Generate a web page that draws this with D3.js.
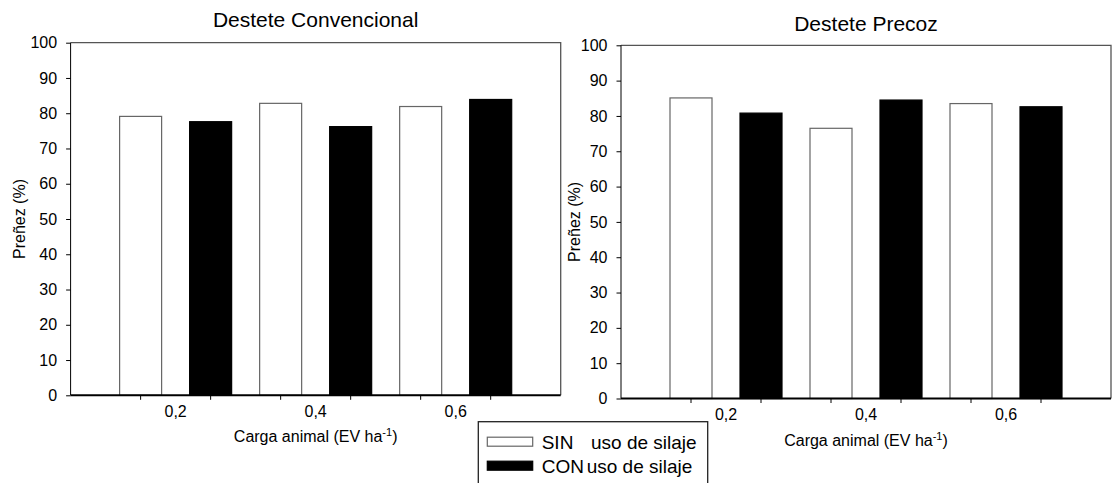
<!DOCTYPE html>
<html>
<head>
<meta charset="utf-8">
<script src="https://cdn.jsdelivr.net/npm/d3@7"></script>
<style>
  html, body { margin: 0; padding: 0; background: #fff; }
  svg { display: block; }
  text { font-family: "Liberation Sans", Arial, sans-serif; fill: #000; }
</style>
</head>
<body>
<svg id="chart" width="1112" height="483"></svg>
<script>
// ---- data ----
const categories = ["0,2", "0,4", "0,6"];
const seriesNames = ["SIN", "CON"];
const convSin = [79.1, 82.8, 81.9];
const convCon = [77.6, 76.2, 83.9];
const precozSin = [85.1, 76.5, 83.5];
const precozCon = [80.8, 84.5, 82.6];
const yTicks = [0, 10, 20, 30, 40, 50, 60, 70, 80, 90, 100];
const panelTitles = ["Destete Convencional", "Destete Precoz"];
const yTitle = "Preñez (%)";
const legendLabels = ["uso de silaje", "uso de silaje"];

const svg = d3.select("#chart");

const panels = [
  { title: panelTitles[0], sin: convSin, con: convCon,
    x0: 70.6, x1: 560.7, yTop: 42.7, yZero: 395.3, titleY: 27.3, yTitleX: 25 },
  { title: panelTitles[1], sin: precozSin, con: precozCon,
    x0: 621, x1: 1111, yTop: 45.3, yZero: 398.5, titleY: 31, yTitleX: 580 }
];

const fill = { SIN: "#fff", CON: "#000" };
const stroke = { SIN: "#666", CON: "#000" };

panels.forEach(p => {
  const g = svg.append("g");
  const x = d3.scaleBand().domain(categories).range([p.x0, p.x1])
    .paddingInner(0).paddingOuter(0.25);
  const xs = d3.scaleBand().domain(seriesNames).range([0, x.bandwidth()])
    .paddingInner(0.4).paddingOuter(0.2);
  const y = d3.scaleLinear().domain([0, 100]).range([p.yZero, p.yTop]);

  // frame (top & right)
  g.append("path")
    .attr("d", `M${p.x0},${p.yTop}H${p.x1}V${p.yZero}`)
    .attr("fill", "none").attr("stroke", "#555").attr("stroke-width", 1.3);

  // bars
  const rows = categories.map((c, i) => ({ cat: c, SIN: p.sin[i], CON: p.con[i] }));
  rows.forEach(r => {
    seriesNames.forEach(s => {
      g.append("rect")
        .attr("x", x(r.cat) + xs(s))
        .attr("y", y(r[s]))
        .attr("width", xs.bandwidth())
        .attr("height", y(0) - y(r[s]))
        .attr("fill", fill[s])
        .attr("stroke", stroke[s])
        .attr("stroke-width", 1.2);
    });
  });

  // y axis
  const ya = g.append("g").attr("transform", `translate(${p.x0},0)`)
    .call(d3.axisLeft(y).tickValues(yTicks).tickSize(4.5).tickPadding(9).tickFormat(d3.format("d")));
  ya.select(".domain").attr("d", `M0,${p.yTop}V${p.yZero}`).attr("stroke", "#000").attr("stroke-width", 1);
  ya.selectAll(".tick line").attr("stroke", "#000");
  ya.selectAll(".tick text").style("font-size", "16px").style("font-family", '"Liberation Sans", Arial, sans-serif');

  // x axis: labels at category centres
  const xa = g.append("g").attr("transform", `translate(0,${p.yZero})`)
    .call(d3.axisBottom(x).tickSize(0).tickPadding(10));
  xa.select(".domain").remove();
  xa.selectAll(".tick text").style("font-size", "16px").style("font-family", '"Liberation Sans", Arial, sans-serif');
  // tick marks at bar centres
  categories.forEach(c => {
    seriesNames.forEach(s => {
      const cx = x(c) + xs(s) + xs.bandwidth() / 2;
      g.append("line").attr("x1", cx).attr("x2", cx)
        .attr("y1", p.yZero).attr("y2", p.yZero + 4.5)
        .attr("stroke", "#000").attr("stroke-width", 1);
    });
  });
  // x axis line
  g.append("line").attr("x1", p.x0).attr("x2", p.x1)
    .attr("y1", p.yZero).attr("y2", p.yZero)
    .attr("stroke", "#000").attr("stroke-width", 2);

  // x title
  const xt = g.append("text")
    .attr("x", (p.x0 + p.x1) / 2).attr("y", p.yZero + 47)
    .attr("text-anchor", "middle").style("font-size", "16px");
  xt.append("tspan").text("Carga animal (EV ha");
  xt.append("tspan").attr("dy", -6).style("font-size", "11px").text("-1");
  xt.append("tspan").attr("dy", 6).text(")");

  // y title
  g.append("text")
    .attr("transform", `translate(${p.yTitleX},${(p.yTop + p.yZero) / 2}) rotate(-90)`)
    .attr("text-anchor", "middle").style("font-size", "16px").text(yTitle);

  // panel title
  g.append("text")
    .attr("x", (p.x0 + p.x1) / 2).attr("y", p.titleY)
    .attr("text-anchor", "middle").style("font-size", "21px").text(p.title);
});

// legend
const lg = svg.append("g");
lg.append("rect").attr("x", 478.3).attr("y", 421.7).attr("width", 229.4).attr("height", 80)
  .attr("fill", "#fff").attr("stroke", "#222").attr("stroke-width", 1.3);
const legRows = [
  { s: seriesNames[0], label: legendLabels[0], y: 441.7, ty: 449.3, lx: 591 },
  { s: seriesNames[1], label: legendLabels[1], y: 465.7, ty: 473.3, lx: 586.7 }
];
legRows.forEach(r => {
  lg.append("rect").attr("x", 487.3).attr("y", r.y - 4.5).attr("width", 45.4).attr("height", 9)
    .attr("fill", fill[r.s]).attr("stroke", stroke[r.s]).attr("stroke-width", 1.2);
  lg.append("text").attr("x", 541.7).attr("y", r.ty).style("font-size", "19px").text(r.s);
  lg.append("text").attr("x", r.lx).attr("y", r.ty).style("font-size", "19px").text(r.label);
});
</script>
</body>
</html>
